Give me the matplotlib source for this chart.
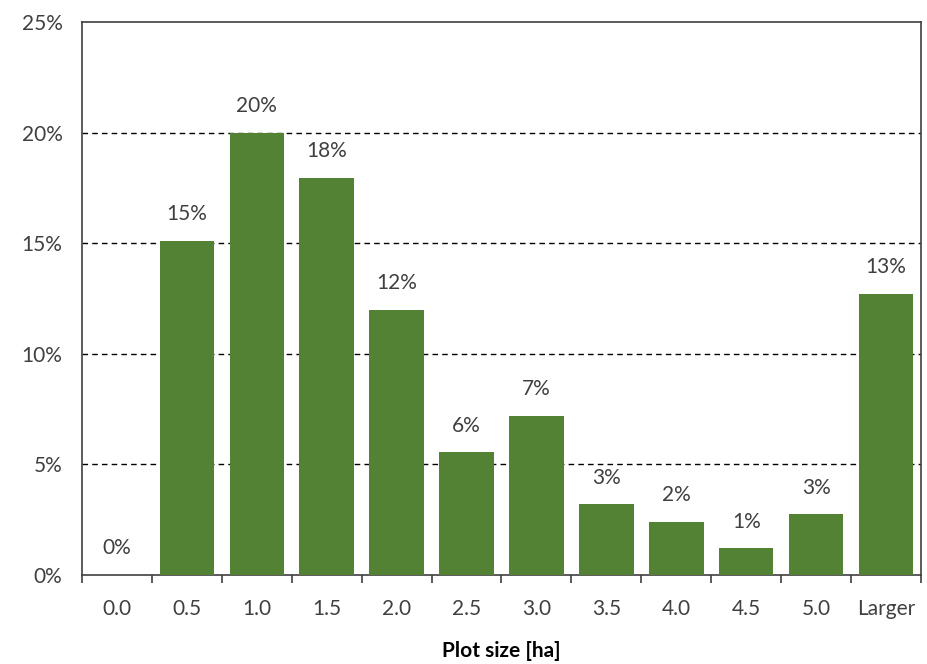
import matplotlib.pyplot as plt
from matplotlib.ticker import FuncFormatter

categories = ['0.0', '0.5', '1.0', '1.5', '2.0', '2.5', '3.0', '3.5', '4.0', '4.5', '5.0', 'Larger']
shares = [0.0, 15.1, 20.0, 17.95, 12.0, 5.55, 7.2, 3.2, 2.4, 1.2, 2.75, 12.7]
bar_labels = ['0%', '15%', '20%', '18%', '12%', '6%', '7%', '3%', '2%', '1%', '3%', '13%']

plt.rcParams['font.family'] = ['Lato', 'DejaVu Sans']
text_color = '#404040'
fs = 15

fig = plt.figure(figsize=(9.28, 6.64), dpi=100)
ax = fig.add_axes([82/928, 1 - 575/664, 839/928, 553/664])

x = range(len(categories))
ax.bar(x, shares, width=0.78, color='#548235', zorder=3)

# value labels above bars
for i, (v, lab) in enumerate(zip(shares, bar_labels)):
    ax.text(i, v + 0.75, lab, ha='center', va='bottom', fontsize=fs, color=text_color, zorder=4)

ax.set_xlim(-0.5, len(categories) - 0.5)
ax.set_ylim(0, 25)
ax.set_yticks([0, 5, 10, 15, 20, 25])
ax.yaxis.set_major_formatter(FuncFormatter(lambda v, p: f'{int(v)}%'))
ax.tick_params(axis='y', length=0, pad=14, labelsize=fs, labelcolor=text_color)

ax.set_xticks(list(x))
ax.set_xticklabels(categories)
ax.tick_params(axis='x', length=0, pad=17, labelsize=fs, labelcolor=text_color)
# Excel-style tick marks between categories
ax.set_xticks([i - 0.5 for i in range(len(categories) + 1)], minor=True)
ax.tick_params(axis='x', which='minor', length=6, width=1.2, color='#404040', direction='out')

for yv in [5, 10, 15, 20]:
    ax.axhline(yv, color='black', linestyle=(0, (4, 3)), linewidth=1, zorder=1)

for side in ['top', 'left', 'right', 'bottom']:
    ax.spines[side].set_color('#404040')
    ax.spines[side].set_linewidth(1.2)

ax.set_xlabel('Plot size [ha]', fontsize=fs, fontweight='bold', color='black', labelpad=16)

fig.savefig('out.png', dpi=100)
